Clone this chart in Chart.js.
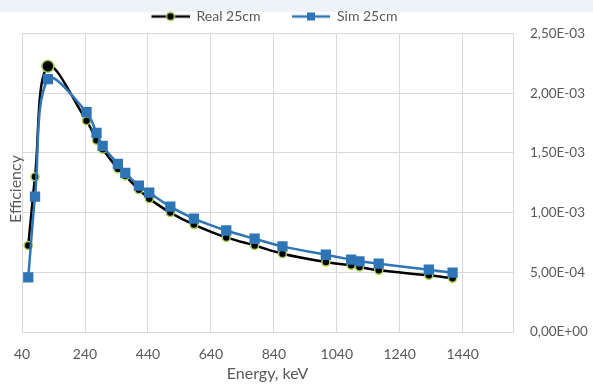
<!DOCTYPE html>
<html>
<head>
<meta charset="utf-8">
<script src="https://cdn.jsdelivr.net/npm/chart.js@4.4.0/dist/chart.umd.min.js"></script>
<style>
  body { margin: 0; background: linear-gradient(#eef3fa 0, #eef3fa 11px, #fff 13px); }
  canvas { display: block; }
</style>
</head>
<body>
<canvas id="chart" width="593" height="384"></canvas>
<script>
// gamma lines used for both series (keV)
const energies = [59.5, 81, 121.8, 244.7, 276.4, 295.9, 344.3, 367.8, 411.1, 444, 511, 586, 688.7, 778.9, 867.4, 1005.3, 1085.8, 1112.1, 1173.2, 1332.5, 1408];
const realEff = [7.25e-4, 1.30e-3, 2.225e-3, 1.77e-3, 1.606e-3, 1.531e-3, 1.367e-3, 1.308e-3, 1.192e-3, 1.117e-3, 1.0e-3, 9.0e-4, 7.92e-4, 7.25e-4, 6.56e-4, 5.86e-4, 5.58e-4, 5.44e-4, 5.17e-4, 4.75e-4, 4.5e-4];
const simEff = [4.58e-4, 1.133e-3, 2.117e-3, 1.842e-3, 1.667e-3, 1.558e-3, 1.408e-3, 1.333e-3, 1.225e-3, 1.167e-3, 1.05e-3, 9.5e-4, 8.5e-4, 7.81e-4, 7.17e-4, 6.47e-4, 6.06e-4, 5.92e-4, 5.72e-4, 5.22e-4, 4.97e-4];
const xTicks = [40, 240, 440, 640, 840, 1040, 1240, 1440];
const seriesNames = ["Real 25cm", "Sim 25cm"];

const FONT = "Lato";
const TXT = "#595959";
const GRID = "#d9d9d9";
const BLUE = "#2e75b6";
const GREEN = "#a8d14f";

function sci(v) {
    const parts = v.toExponential(2).split("e");
    const n = parseInt(parts[1], 10);
    return parts[0].replace(".", ",") + "E" + (n < 0 ? "-" : "+") + String(Math.abs(n)).padStart(2, "0");
}

// line + marker symbol for the legend (blank space on the left = gap between items)
function legendSymbol(kind) {
    const c = document.createElement("canvas");
    c.width = 62; c.height = 14;
    const g = c.getContext("2d");
    g.strokeStyle = kind === "real" ? "#000" : BLUE;
    g.lineWidth = 2.5;
    g.beginPath(); g.moveTo(24, 7); g.lineTo(62, 7); g.stroke();
    if (kind === "real") {
        g.beginPath(); g.arc(43, 7, 4, 0, Math.PI * 2);
        g.fillStyle = "#000"; g.fill();
        g.lineWidth = 1.5; g.strokeStyle = GREEN; g.stroke();
    } else {
        g.fillStyle = BLUE;
        g.fillRect(39, 3, 8, 8);
    }
    return c;
}

const yTitle = {
    id: "yTitle",
    afterDraw(chart) {
        const ctx = chart.ctx;
        ctx.save();
        ctx.translate(16, 189);
        ctx.rotate(-Math.PI / 2);
        ctx.font = "16px " + FONT;
        ctx.fillStyle = TXT;
        ctx.textAlign = "center";
        ctx.textBaseline = "middle";
        ctx.fillText("Efficiency", 0, 0);
        ctx.restore();
    }
};

// move the legend to where it sits in the original
const legendShift = {
    id: "legendShift",
    afterLayout(chart) {
        chart.legend.left = 120;
    }
};

const realRadius = realEff.map((v, i) => i === 2 ? 6 : 4);

const ctx = document.getElementById("chart").getContext("2d");
new Chart(ctx, {
    type: "line",
    data: {
        datasets: [{
            label: seriesNames[0],
            data: energies.map((e, i) => ({ x: e, y: realEff[i] })),
            borderColor: "#000",
            borderWidth: 2.5,
            backgroundColor: "#000",
            pointBorderColor: GREEN,
            pointBorderWidth: 1.5,
            pointRadius: realRadius,
            pointStyle: "circle",
            tension: 0.35,
            order: 2
        }, {
            label: seriesNames[1],
            data: energies.map((e, i) => ({ x: e, y: simEff[i] })),
            borderColor: BLUE,
            borderWidth: 2.5,
            backgroundColor: BLUE,
            pointBorderColor: BLUE,
            pointRadius: 5.5,
            pointStyle: "rect",
            tension: 0.35,
            order: 1
        }]
    },
    options: {
        responsive: false,
        animation: false,
        layout: { padding: { left: 19, right: 0, top: 2, bottom: 0 } },
        plugins: {
            tooltip: { enabled: false },
            legend: {
                position: "top",
                align: "start",
                labels: {
                    usePointStyle: true,
                    pointStyleWidth: 62,
                    padding: 7.5,
                    color: TXT,
                    font: { family: FONT, size: 14 },
                    sort: (a, b) => a.datasetIndex - b.datasetIndex,
                    generateLabels: (chart) => seriesNames.map((name, i) => ({
                        text: name,
                        datasetIndex: i,
                        fontColor: TXT,
                        pointStyle: legendSymbol(i === 0 ? "real" : "sim"),
                        lineWidth: 0,
                        strokeStyle: "transparent",
                        fillStyle: "transparent"
                    }))
                }
            }
        },
        scales: {
            x: {
                type: "linear",
                min: 40,
                max: 1600,
                afterBuildTicks: (scale) => { scale.ticks = xTicks.map(v => ({ value: v })); },
                grid: { color: GRID, lineWidth: 1, drawTicks: false },
                border: { color: GRID },
                ticks: { color: TXT, font: { family: FONT, size: 14 }, padding: 14, maxRotation: 0, callback: (v) => String(v) },
                title: { display: true, text: "Energy, keV", color: TXT, font: { family: FONT, size: 16 }, padding: { top: -13, bottom: 1 } }
            },
            y: {
                position: "right",
                min: 0,
                max: 0.0025,
                afterFit: (scale) => { scale.width = 80; },
                grid: { color: GRID, lineWidth: 1, drawTicks: false },
                border: { color: GRID },
                ticks: { stepSize: 0.0005, color: TXT, font: { family: FONT, size: 13.5 }, padding: 17, callback: (v) => sci(v) }
            }
        }
    },
    plugins: [yTitle, legendShift]
});
</script>
</body>
</html>
